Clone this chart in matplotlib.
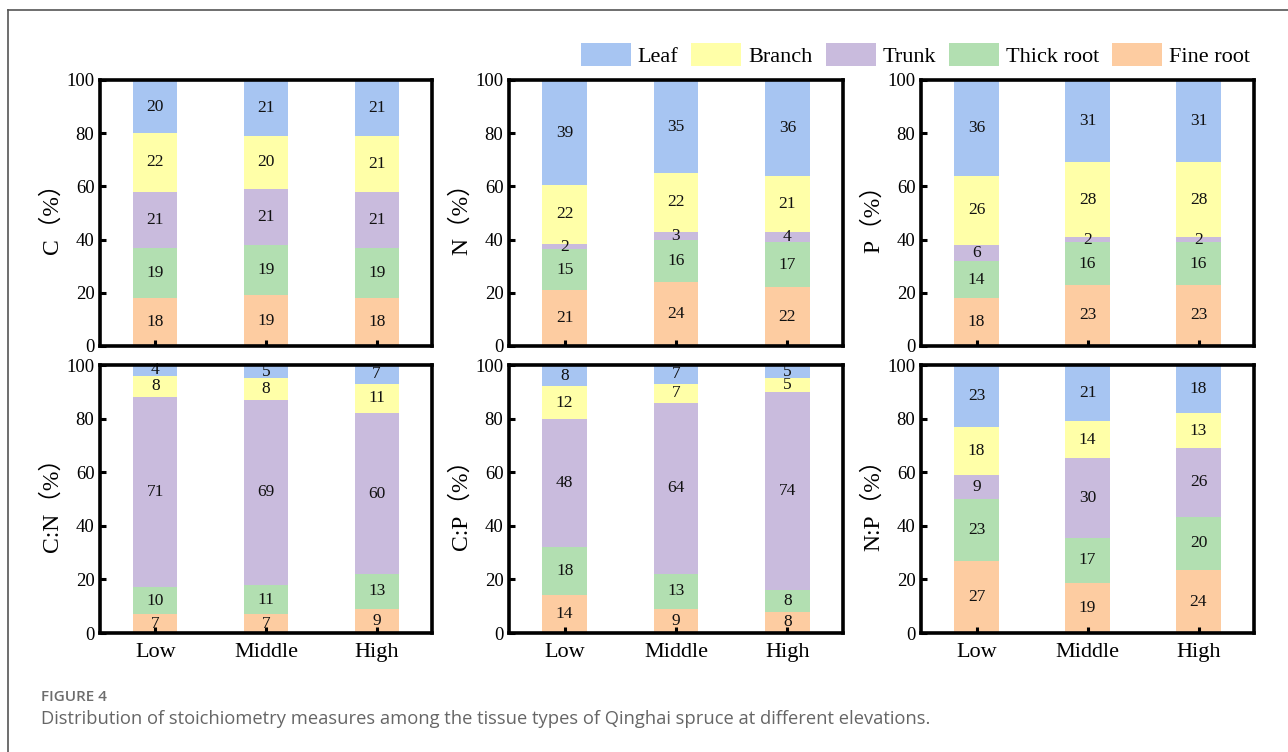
import matplotlib
matplotlib.use("Agg")
import matplotlib.pyplot as plt
from matplotlib.patches import Patch
from matplotlib.lines import Line2D
import numpy as np

plt.rcParams['font.family'] = ['Liberation Serif', 'Noto Sans CJK SC']

elevations = ['Low', 'Middle', 'High']
tissues = ['Fine root', 'Thick root', 'Trunk', 'Branch', 'Leaf']  # bottom -> top
colors = {'Leaf': '#A7C5F2', 'Branch': '#FFFFA8', 'Trunk': '#C9BBDD',
          'Thick root': '#B2DFB1', 'Fine root': '#FDCCA1'}

C_vals = {'Fine root': [18, 19, 18], 'Thick root': [19, 19, 19], 'Trunk': [21, 21, 21],
          'Branch': [22, 20, 21], 'Leaf': [20, 21, 21]}
N_vals = {'Fine root': [21.0, 24, 22], 'Thick root': [15.3, 16, 17], 'Trunk': [2.1, 3, 4],
          'Branch': [22.1, 22, 21], 'Leaf': [39.4, 35, 36]}
P_vals = {'Fine root': [18, 23, 23], 'Thick root': [14, 16, 16], 'Trunk': [6, 2, 2],
          'Branch': [26, 28, 28], 'Leaf': [36, 31, 31]}
CN_vals = {'Fine root': [7, 7, 9], 'Thick root': [10, 11, 13], 'Trunk': [71, 69, 60],
           'Branch': [8, 8, 11], 'Leaf': [4, 5, 7]}
CP_vals = {'Fine root': [14, 9, 8], 'Thick root': [18, 13, 8], 'Trunk': [48, 64, 74],
           'Branch': [12, 7, 5], 'Leaf': [8, 7, 5]}
NP_vals = {'Fine root': [27, 18.8, 23.5], 'Thick root': [23, 16.8, 19.9],
           'Trunk': [9, 29.6, 25.7], 'Branch': [18, 13.9, 12.9], 'Leaf': [23, 20.9, 18.0]}

panels = [('C', C_vals), ('N', N_vals), ('P', P_vals),
          ('C:N', CN_vals), ('C:P', CP_vals), ('N:P', NP_vals)]

W, H = 1288, 752
fig = plt.figure(figsize=(W / 100, H / 100), dpi=100)

def rect(l, t, r, b):
    return [l / W, 1 - b / H, (r - l) / W, (b - t) / H]

cols = [(100, 432), (509, 843), (921, 1254)]
rows = [(80, 346), (365, 633)]

x = np.arange(len(elevations))
for i, (name, vals) in enumerate(panels):
    r, c = divmod(i, 3)
    l, rr = cols[c]
    t, b = rows[r]
    ax = fig.add_axes(rect(l, t, rr, b))
    bottom = np.zeros(len(elevations))
    for tis in tissues:
        v = np.array(vals[tis], dtype=float)
        ax.bar(x, v, width=0.4, bottom=bottom, color=colors[tis], edgecolor='none', zorder=1)
        for xi, (bi, vi) in enumerate(zip(bottom, v)):
            ax.text(xi, bi + vi / 2, f'{vi:.0f}', ha='center', va='center',
                    fontsize=12.5, color='#111111', zorder=3, clip_on=False)
        bottom += v
    ax.set_xlim(-0.5, 2.5)
    ax.set_ylim(0, 100)
    ax.set_yticks([0, 20, 40, 60, 80, 100])
    ax.set_xticks(x)
    if r == 1:
        ax.set_xticklabels(elevations, fontsize=16)
    else:
        ax.set_xticklabels([])
    ax.tick_params(axis='both', direction='in', length=4, width=2.2, labelsize=13.5,
                   colors='black', pad=4)
    ax.tick_params(axis='x', labelsize=16, pad=7)
    for s in ax.spines.values():
        s.set_linewidth(2.6)
        s.set_zorder(4)
    ax.set_ylabel(f'{name}（%）', fontsize=17)
    ax.yaxis.set_label_coords(-37 / (rr - l), 0.5)

handles = [Patch(facecolor=colors[t], edgecolor='none') for t in tissues[::-1]]
fig.legend(handles, tissues[::-1], ncol=5, loc='center right',
           bbox_to_anchor=(1250 / W, 1 - 55 / H), frameon=False, fontsize=16,
           handlelength=2.25, handleheight=1.17, handletextpad=0.3,
           columnspacing=0.6, borderpad=0, borderaxespad=0)

fig.add_artist(Line2D([8 / W, 1], [1 - 10 / H, 1 - 10 / H], color='#555555', lw=1.2,
                      transform=fig.transFigure))
fig.add_artist(Line2D([8 / W, 8 / W], [0, 1 - 10 / H], color='#555555', lw=1.2,
                      transform=fig.transFigure))

fig.text(41 / W, 1 - 697 / H, 'FIGURE 4', family='Open Sans', fontsize=11,
         color='#6d6d6d', va='center', ha='left', weight='semibold')
fig.text(41 / W, 1 - 719 / H,
         'Distribution of stoichiometry measures among the tissue types of Qinghai spruce at different elevations.',
         family='Open Sans', fontsize=13.2, color='#666666', va='center', ha='left')

fig.savefig('out.png', dpi=100)
